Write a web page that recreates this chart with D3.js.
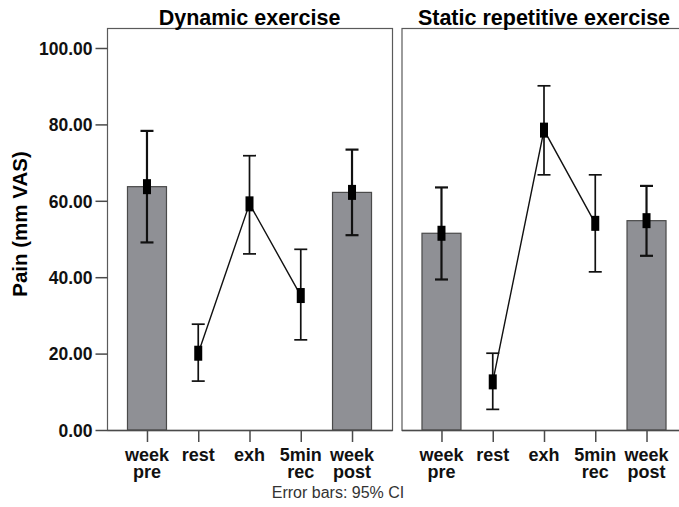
<!DOCTYPE html>
<html>
<head>
<meta charset="utf-8">
<script src="https://cdn.jsdelivr.net/npm/d3@7"></script>
<style>
  body { margin: 0; background: #fff; }
  text { font-family: "Liberation Sans", Arial, sans-serif; }
</style>
</head>
<body>
<div id="chart"></div>
<script>
// categories and values
const categories = ['week pre', 'rest', 'exh', '5min rec', 'week post'];
const barCategories = ['week pre', 'week post'];
const lineCategories = ['rest', 'exh', '5min rec'];
const panelTitles = ['Dynamic exercise', 'Static repetitive exercise'];

const dynamicMean = [63.7, 20.1, 59.2, 35.2, 62.2];
const dynamicLow = [49.1, 12.8, 46.1, 23.6, 51.0];
const dynamicHigh = [78.3, 27.7, 71.8, 47.3, 73.4];

const staticMean = [51.5, 12.6, 78.5, 54.1, 54.8];
const staticLow = [39.4, 5.4, 66.8, 41.4, 45.6];
const staticHigh = [63.5, 20.1, 90.1, 66.8, 63.9];

const yTicks = [0, 20, 40, 60, 80, 100];

const width = 679;
const height = 507;
const plotTop = 28;
const plotBottom = 430;
const panelWidth = 285;
const panelLeft = [107, 401.5];

const svg = d3.select('#chart')
  .append('svg')
  .attr('width', width)
  .attr('height', height);

const y = d3.scaleLinear()
  .domain([0, 100])
  .range([430, 48]);

const panels = [
  { mean: dynamicMean, low: dynamicLow, high: dynamicHigh },
  { mean: staticMean, low: staticLow, high: staticHigh },
];

panels.forEach((p, i) => {
  const x = d3.scalePoint()
    .domain(categories)
    .range([panelLeft[i], panelLeft[i] + panelWidth])
    .padding(0.78);

  const rows = categories.map((c, k) => ({
    cat: c, mean: p.mean[k], low: p.low[k], high: p.high[k],
  }));

  const g = svg.append('g');

  // frame
  g.append('rect')
    .attr('x', panelLeft[i] + 0.5)
    .attr('y', plotTop + 0.5)
    .attr('width', panelWidth)
    .attr('height', plotBottom - plotTop)
    .attr('fill', 'none')
    .attr('stroke', '#5a5a5a')
    .attr('stroke-width', 1.2);

  // title
  g.append('text')
    .attr('x', panelLeft[i] + panelWidth / 2)
    .attr('y', 25)
    .attr('text-anchor', 'middle')
    .attr('font-size', 21.5)
    .attr('font-weight', 'bold')
    .text(panelTitles[i]);

  // bars
  const barW = 39;
  g.selectAll('.bar')
    .data(rows.filter(d => barCategories.includes(d.cat)))
    .enter()
    .append('rect')
    .attr('x', d => x(d.cat) - barW / 2)
    .attr('y', d => y(d.mean))
    .attr('width', barW)
    .attr('height', d => y(0) - y(d.mean))
    .attr('fill', '#8f9095')
    .attr('stroke', '#4a4a4a')
    .attr('stroke-width', 1.2);

  // x axis
  const xAxis = g.append('g')
    .attr('transform', `translate(0, ${plotBottom})`)
    .call(d3.axisBottom(x).tickSize(12).tickFormat(''));
  xAxis.select('.domain')
    .attr('stroke', '#4a4a4a')
    .attr('stroke-width', 1.4)
    .attr('d', `M${panelLeft[i] + 0.5},0.5H${panelLeft[i] + panelWidth + 0.5}`);
  xAxis.selectAll('.tick line')
    .attr('stroke', '#4a4a4a')
    .attr('stroke-width', 1.5);

  // x labels on two lines
  rows.forEach(d => {
    const parts = d.cat.split(' ');
    const t = g.append('text')
      .attr('text-anchor', 'middle')
      .attr('font-size', 18)
      .attr('font-weight', 'bold')
      .attr('fill', '#111');
    parts.forEach((s, j) => {
      t.append('tspan')
        .attr('x', x(d.cat))
        .attr('y', 461 + j * 17)
        .text(s);
    });
  });

  // connecting line
  const line = d3.line()
    .x(d => x(d.cat))
    .y(d => y(d.mean));
  g.append('path')
    .datum(rows.filter(d => lineCategories.includes(d.cat)))
    .attr('d', line)
    .attr('fill', 'none')
    .attr('stroke', '#111')
    .attr('stroke-width', 1.4);

  // error bars
  const capW = 13;
  const eb = g.selectAll('.err')
    .data(rows)
    .enter()
    .append('g')
    .attr('stroke', '#111')
    .attr('stroke-width', d => (barCategories.includes(d.cat) ? 2.2 : 1.7));
  eb.append('line')
    .attr('x1', d => x(d.cat))
    .attr('x2', d => x(d.cat))
    .attr('y1', d => y(d.low))
    .attr('y2', d => y(d.high));
  eb.append('line')
    .attr('x1', d => x(d.cat) - capW / 2)
    .attr('x2', d => x(d.cat) + capW / 2)
    .attr('y1', d => y(d.high))
    .attr('y2', d => y(d.high));
  eb.append('line')
    .attr('x1', d => x(d.cat) - capW / 2)
    .attr('x2', d => x(d.cat) + capW / 2)
    .attr('y1', d => y(d.low))
    .attr('y2', d => y(d.low));

  // mean markers
  g.selectAll('.mark')
    .data(rows)
    .enter()
    .append('rect')
    .attr('x', d => x(d.cat) - 4)
    .attr('y', d => y(d.mean) - 7.5)
    .attr('width', 8)
    .attr('height', 15)
    .attr('fill', '#000');
});

// y axis on the left panel
const yAxis = svg.append('g')
  .attr('transform', `translate(${panelLeft[0] + 0.5}, 0)`)
  .call(d3.axisLeft(y).tickValues(yTicks).tickSize(12).tickPadding(3)
    .tickFormat(d3.format('.2f')));
yAxis.select('.domain').remove();
yAxis.selectAll('.tick line')
  .attr('stroke', '#4a4a4a')
  .attr('stroke-width', 1.5);
yAxis.selectAll('.tick text')
  .attr('font-size', 17.5)
  .attr('font-weight', 'bold')
  .attr('fill', '#111')
  .attr('dy', '0.36em');

// y title
svg.append('text')
  .attr('transform', 'translate(27, 224) rotate(-90)')
  .attr('text-anchor', 'middle')
  .attr('font-size', 20.5)
  .attr('font-weight', 'bold')
  .text('Pain (mm VAS)');

// footnote
svg.append('text')
  .attr('x', 338)
  .attr('y', 498)
  .attr('text-anchor', 'middle')
  .attr('font-size', 16)
  .attr('fill', '#333')
  .text('Error bars: 95% CI');
</script>
</body>
</html>
